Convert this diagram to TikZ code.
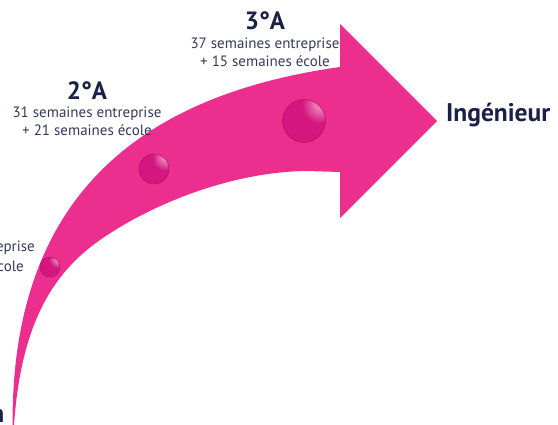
\documentclass[tikz,border=0pt]{standalone}
\usepackage{fontspec}
\setmainfont{PT Sans}
\usetikzlibrary{positioning,calc}
\definecolor{arrowpink}{HTML}{EC2F8F}
\definecolor{ballpink}{HTML}{D4167F}
\definecolor{ballhi}{HTML}{F8A6D0}
\definecolor{ballrim}{HTML}{A3125E}
\definecolor{navy}{HTML}{1B2146}
\definecolor{greytext}{HTML}{343A58}
\pgfdeclareradialshading{beadshade}{\pgfpoint{22bp}{22bp}}{%
  color(0bp)=(ballhi); color(9bp)=(ballhi!60!ballpink); color(20bp)=(ballpink); color(48bp)=(ballpink); color(75bp)=(ballrim); color(100bp)=(ballrim)}

\begin{document}
\begin{tikzpicture}[x=1pt,y=-1pt,
  year/.style={font=\fontsize{25}{25}\selectfont\bfseries,text=navy,inner sep=0pt},
  weeks/.style={font=\fontsize{15}{18}\selectfont,text=greytext,align=center,inner sep=0pt},
  goal/.style={font=\fontsize{25.5}{25.5}\selectfont\bfseries,text=navy,inner sep=0pt},
  ball/.style={circle,draw=ballrim,thin,shading=beadshade,inner sep=0pt,minimum size=#1},
]
\useasboundingbox (0,0) rectangle (558,425);
\clip (0,0) rectangle (558,425);

% Arrow
\coordinate (foot) at (13,445);
\fill[arrowpink] (foot) .. controls (5,230) and (105,100) .. (340,67) -- (340,24) -- (437,121)
  -- (340,218) -- (340,172) -- (306,171) .. controls (230,172) and (150,205) .. (100,240)
  .. controls (50,275) and (17,330) .. (foot) -- cycle;

% Year beads
\node[ball=20pt] (b1) at (50,267) {};
\node[ball=30pt] (b2) at (154,169) {};
\node[ball=43pt] (b3) at (304,121) {};

% Years
\node[year] (y3) at (265,21) {3°A};
\node[weeks] (w3) at (265,52) {37 semaines entreprise\\+ 15 semaines école};
\node[year] (y2) at (87,91) {2°A};
\node[weeks] (w2) at (87,121.5) {31 semaines entreprise\\+ 21 semaines école};
\node[weeks,anchor=east] (w1a) at (35,248) {entreprise};
\node[weeks,anchor=east] (w1b) at (24,266) {école};

% Ends
\node[goal,anchor=west] (eng) at (446,115) {Ingénieur};
\node[goal,anchor=base east] (start) at (4.5,423) {n};

\end{tikzpicture}
\end{document}
